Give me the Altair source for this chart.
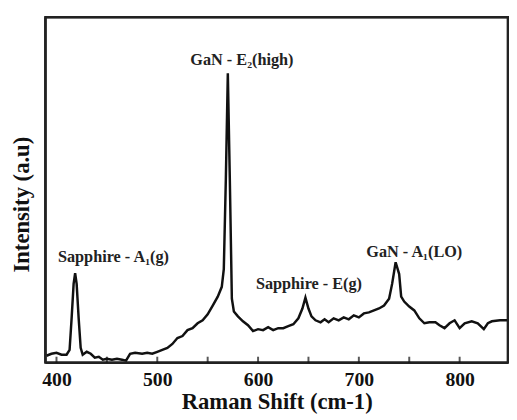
import altair as alt
import pandas as pd

# Raman spectrum (wavenumber, relative intensity)
shift = [390, 395, 400, 405, 410, 413, 415, 417, 418.5, 420, 422, 424, 426, 430, 434, 438,
         442, 446, 450, 455, 460, 465, 469, 473, 478, 485, 490, 495, 500, 505, 510, 515,
         520, 525, 530, 535, 540, 545, 550, 555, 560, 564, 566, 568, 570, 572, 574, 576,
         580, 585, 590, 595, 600, 605, 610, 615, 620, 625, 630, 635, 640, 644, 647, 650,
         653, 657, 662, 666, 670, 675, 680, 685, 690, 695, 700, 705, 710, 715, 720, 725,
         730, 733, 736.5, 740, 742, 745, 750, 755, 760, 765, 770, 776, 780, 785, 790, 795,
         800, 805, 812, 818, 824, 828, 832, 840, 848]
intensity = [7, 9, 10, 8, 8, 13, 45, 80, 91, 80, 45, 15, 8, 11, 9, 5,
             6, 3, 4, 3, 4, 3, 2, 9, 10, 9, 10, 9, 11, 13, 15, 19,
             25, 27, 33, 35, 40, 43, 49, 58, 67, 77, 95, 185, 294, 185, 65, 52,
             47, 42, 38, 32, 34, 33, 36, 33, 35, 35, 37, 39, 45, 55, 66, 55,
             47, 43, 41, 44, 41, 45, 43, 46, 44, 48, 46, 50, 51, 53, 55, 58,
             65, 80, 102, 90, 67, 62, 57, 53, 45, 40, 41, 41, 38, 35, 40, 43,
             35, 40, 42, 40, 34, 40, 42, 43, 43]

# Peak annotations
label_text = ["GaN - E₂(high)", "Sapphire - A₁(g)", "Sapphire - E(g)", "GaN - A₁(LO)"]
label_x = [584, 456.5, 650.5, 755]
label_y = [307, 107, 80, 112]

tick_values = [400, 450, 500, 550, 600, 650, 700, 750, 800]
x_domain = [389, 848]
y_domain = [0, 351]

W, H = 470, 351
FONT = "Liberation Serif"

df = pd.DataFrame({"x": shift, "y": intensity, "o": list(range(len(shift)))})
labels = pd.DataFrame({"text": label_text, "x": label_x, "y": label_y})
ticks = pd.DataFrame({"t": tick_values})
xedge = pd.DataFrame({"x0": [x_domain[0]], "x1": [x_domain[1]]})
yedge = pd.DataFrame({"y0": [y_domain[0]], "y1": [y_domain[1]]})

xscale = alt.Scale(domain=x_domain, nice=False, zero=False)
yscale = alt.Scale(domain=y_domain, nice=False, zero=False)

lines = alt.Chart(df).mark_line(color="#111", strokeWidth=2.5).encode(
    x=alt.X("x:Q", scale=xscale,
            axis=alt.Axis(title="Raman Shift (cm-1)", values=tick_values,
                          labelExpr="datum.value % 100 == 0 ? datum.label : ''",
                          ticks=False, domain=False, grid=False,
                          labelFont=FONT, labelFontWeight="bold", labelFontSize=20,
                          labelColor="#111", labelPadding=7,
                          titleFont=FONT, titleFontWeight="bold", titleFontSize=23,
                          titleColor="#111", titlePadding=2)),
    y=alt.Y("y:Q", scale=yscale,
            axis=alt.Axis(title="Intensity (a.u)", labels=False, ticks=False,
                          domain=False, grid=False, titleY=190,
                          titleFont=FONT, titleFontWeight="bold", titleFontSize=23,
                          titleColor="#111", titlePadding=12)),
    order="o:Q",
)

# frame edges as thin filled rectangles
top_edge = alt.Chart(xedge).mark_rect(color="#222").encode(
    x=alt.X("x0:Q", scale=xscale), x2="x1:Q",
    y=alt.value(-1.2), y2=alt.value(1.3))
bottom_edge = alt.Chart(xedge).mark_rect(color="#222").encode(
    x=alt.X("x0:Q", scale=xscale), x2="x1:Q",
    y=alt.value(H - 1.2), y2=alt.value(H + 1.3))
left_edge = alt.Chart(yedge).mark_rect(color="#222").encode(
    y=alt.Y("y0:Q", scale=yscale), y2="y1:Q",
    x=alt.value(-1.2), x2=alt.value(1.3))
right_edge = alt.Chart(yedge).mark_rect(color="#222").encode(
    y=alt.Y("y0:Q", scale=yscale), y2="y1:Q",
    x=alt.value(W - 1.2), x2=alt.value(W + 1.3))

tick_marks = alt.Chart(ticks).mark_tick(color="#111", orient="vertical",
                                        size=6, thickness=2).encode(
    x=alt.X("t:Q", scale=xscale),
    y=alt.value(H - 3),
)

text = alt.Chart(labels).mark_text(font=FONT, fontWeight="bold", fontSize=16.5,
                                   color="#222", baseline="middle").encode(
    x=alt.X("x:Q", scale=xscale),
    y=alt.Y("y:Q", scale=yscale),
    text="text:N",
)

chart = alt.layer(lines, top_edge, bottom_edge, left_edge, right_edge,
                  tick_marks, text).properties(
    width=W, height=H,
    autosize=alt.AutoSizeParams(type="none"),
    padding={"left": 38, "top": 6, "right": 1, "bottom": 55},
).configure_view(stroke="#222", strokeWidth=2.5)

chart.save("out.html", embed_options={"renderer": "svg", "actions": False})
